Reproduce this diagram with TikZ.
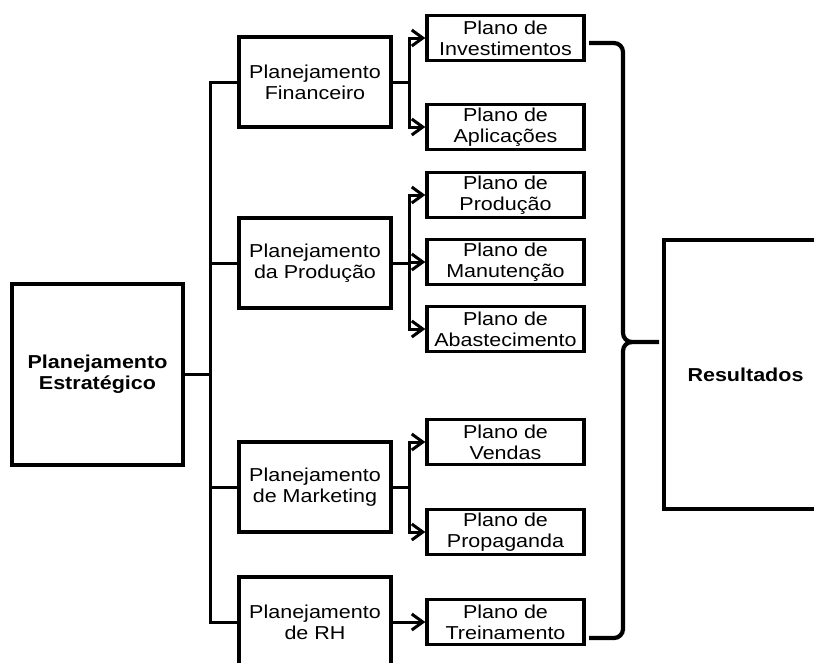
\documentclass[tikz,border=0pt]{standalone}
\usepackage{fontspec}
\setmainfont{Liberation Sans}[FakeStretch=1.15]
\usetikzlibrary{arrows.meta}
\tikzset{
  caixa/.style={draw, line width=3.4pt, align=center, inner sep=0pt,
    font=\fontsize{18.7}{21}\selectfont},
  plan/.style={caixa, minimum width=152pt, minimum height=90pt},
  plano/.style={caixa, minimum width=157pt, minimum height=45pt},
  liga/.style={line width=3pt},
  seta/.style={liga, -{Straight Barb[length=11pt,width=16pt]}},
  chave/.style={line width=4.2pt},
}
\begin{document}
\begin{tikzpicture}[x=1pt,y=-1pt]
\useasboundingbox (0,0) rectangle (814,662);
\clip (0,0) rectangle (814,662);
% caixas principais
\node[caixa, minimum width=171pt, minimum height=181pt] (est) at (97.5,374.5) {\textbf{Planejamento}\\\textbf{Estratégico}};
\node[caixa, minimum width=163pt, minimum height=269pt] (res) at (745.5,374.5) {\textbf{Resultados}};
\node[plan] (fin) at (315,82) {Planejamento\\Financeiro};
\node[plan] (prod) at (315,263) {Planejamento\\da Produção};
\node[plan] (mkt) at (315,487) {Planejamento\\de Marketing};
\node[plan] (rh) at (315,622) {Planejamento\\de RH};
% planos
\node[plano] (inv) at (505.5,38) {Plano de\\Investimentos};
\node[plano] (apl) at (505.5,127) {Plano de\\Aplicações};
\node[plano] (pro) at (505.5,195) {Plano de\\Produção};
\node[plano] (man) at (505.5,262) {Plano de\\Manutenção};
\node[plano] (aba) at (505.5,329) {Plano de\\Abastecimento};
\node[plano] (ven) at (505.5,442) {Plano de\\Vendas};
\node[plano] (pgd) at (505.5,532) {Plano de\\Propaganda};
\node[plano] (tre) at (505.5,622) {Plano de\\Treinamento};
% tronco
\coordinate (tronco) at (210,374.5);
\draw[liga] (est.east) -- (tronco);
\draw[liga] (tronco) |- (fin.west);
\draw[liga] (tronco) |- (prod.west);
\draw[liga] (tronco) |- (mkt.west);
\draw[liga] (tronco) |- (rh.west);
% ramos
\coordinate (gfin) at (409,82);
\coordinate (gprod) at (409,263);
\coordinate (gmkt) at (409,487);
\draw[liga] (fin.east) -- (gfin);
\draw[seta] (gfin) |- (inv.west);
\draw[seta] (gfin) |- (apl.west);
\draw[liga] (prod.east) -- (gprod);
\draw[seta] (gprod) |- (pro.west);
\draw[seta] (gprod) |- (man.west);
\draw[seta] (gprod) |- (aba.west);
\draw[liga] (mkt.east) -- (gmkt);
\draw[seta] (gmkt) |- (ven.west);
\draw[seta] (gmkt) |- (pgd.west);
\draw[seta] (rh.east) -- (tre.west);
% chave
\coordinate (chA) at (589,43);
\coordinate (chB) at (589,638);
\coordinate (chP) at (659,342);
\draw[chave] (chA) -- (614,43) to[out=0,in=90] (623,52) -- (623,333) to[out=-90,in=180] (632,342) -- (chP);
\draw[chave] (632,342) to[out=180,in=90] (623,351) -- (623,629) to[out=-90,in=0] (614,638) -- (chB);
\end{tikzpicture}
\end{document}
